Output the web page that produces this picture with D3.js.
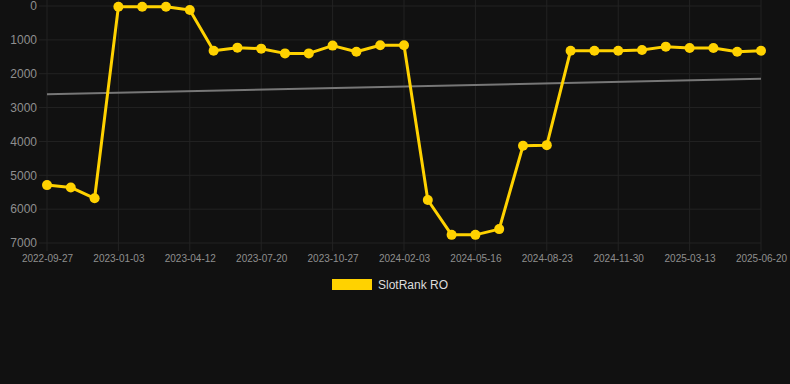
<!DOCTYPE html>
<html>
<head>
<meta charset="utf-8">
<script src="https://cdn.jsdelivr.net/npm/d3@7"></script>
<style>
  html, body { margin: 0; padding: 0; background: #111111; }
  svg { display: block; font-family: "Liberation Sans", Arial, sans-serif; }
</style>
</head>
<body>
<div id="chart"></div>
<script>
// dates of each point (every third one is shown as a tick)
const categories = [
  "2022-09-27", "2022-10-30", "2022-12-02", "2023-01-03", "2023-02-05", "2023-03-10",
  "2023-04-12", "2023-05-15", "2023-06-17", "2023-07-20", "2023-08-22", "2023-09-24",
  "2023-10-27", "2023-11-29", "2024-01-01", "2024-02-03", "2024-03-07", "2024-04-11",
  "2024-05-16", "2024-06-18", "2024-07-21", "2024-08-23", "2024-09-25", "2024-10-28",
  "2024-11-30", "2025-01-02", "2025-02-07", "2025-03-13", "2025-04-15", "2025-05-18",
  "2025-06-20"
];

const rankValues = [
  5290, 5360, 5680, 20, 20, 20, 120, 1320, 1230, 1260, 1400, 1400, 1170, 1350, 1160, 1160,
  5730, 6760, 6760, 6590, 4130, 4110, 1320, 1320, 1320, 1300, 1200, 1240, 1240, 1350, 1320
];

const yTicks = [0, 1000, 2000, 3000, 4000, 5000, 6000, 7000];
const seriesName = "SlotRank RO";

const W = 790, H = 384;
const plot = { left: 47, right: 761, top: 6, bottom: 243 };

const svg = d3.select("#chart").append("svg")
  .attr("width", W)
  .attr("height", H);

const x = d3.scalePoint().domain(categories).range([plot.left, plot.right]);
const y = d3.scaleLinear().domain([0, 7000]).range([plot.top, plot.bottom]);

const tickCats = categories.filter((d, i) => i % 3 === 0);

// grid
svg.append("g")
  .selectAll("line")
  .data(tickCats)
  .join("line")
  .attr("x1", d => x(d)).attr("x2", d => x(d))
  .attr("y1", 0).attr("y2", plot.bottom + 8)
  .attr("stroke", "#232323").attr("stroke-width", 1);

svg.append("g")
  .selectAll("line")
  .data(yTicks)
  .join("line")
  .attr("x1", plot.left - 8).attr("x2", plot.right)
  .attr("y1", d => y(d)).attr("y2", d => y(d))
  .attr("stroke", "#232323").attr("stroke-width", 1);

// axes
const yAxis = svg.append("g")
  .attr("transform", `translate(${plot.left - 10},0)`)
  .call(d3.axisLeft(y).tickValues(yTicks).tickSize(0).tickPadding(0).tickFormat(d3.format("d")));
yAxis.select(".domain").remove();
yAxis.selectAll("text").attr("fill", "#8f8f8f").style("font-size", "12px");

const xAxis = svg.append("g")
  .attr("transform", `translate(0,${plot.bottom + 4})`)
  .call(d3.axisBottom(x).tickValues(tickCats).tickSize(0).tickPadding(8));
xAxis.select(".domain").remove();
xAxis.selectAll("text").attr("fill", "#8f8f8f").style("font-size", "10px");

// trend line (least squares over point index)
const n = rankValues.length;
const mx = d3.mean(rankValues, (d, i) => i);
const my = d3.mean(rankValues);
const slope = d3.sum(rankValues, (d, i) => (i - mx) * (d - my)) / d3.sum(rankValues, (d, i) => (i - mx) * (i - mx));
const trend = [0, n - 1].map(i => ({ c: categories[i], v: my + slope * (i - mx) }));

svg.append("path")
  .datum(trend)
  .attr("fill", "none")
  .attr("stroke", "#777777")
  .attr("stroke-width", 2)
  .attr("d", d3.line().x(d => x(d.c)).y(d => y(d.v)));

// series
const points = categories.map((c, i) => ({ c, v: rankValues[i] }));
svg.append("path")
  .datum(points)
  .attr("fill", "none")
  .attr("stroke", "#FFD200")
  .attr("stroke-width", 3)
  .attr("stroke-linejoin", "round")
  .attr("d", d3.line().x(d => x(d.c)).y(d => y(d.v)));

svg.append("g")
  .selectAll("circle")
  .data(points)
  .join("circle")
  .attr("cx", d => x(d.c))
  .attr("cy", d => y(d.v))
  .attr("r", 5)
  .attr("fill", "#FFD200");

// legend
const legend = svg.append("g").attr("transform", "translate(332,279)");
legend.append("rect").attr("width", 40).attr("height", 11).attr("fill", "#FFD200");
legend.append("text")
  .attr("x", 46).attr("y", 9.5)
  .attr("fill", "#dddddd")
  .style("font-size", "12px")
  .text(seriesName);
</script>
</body>
</html>
